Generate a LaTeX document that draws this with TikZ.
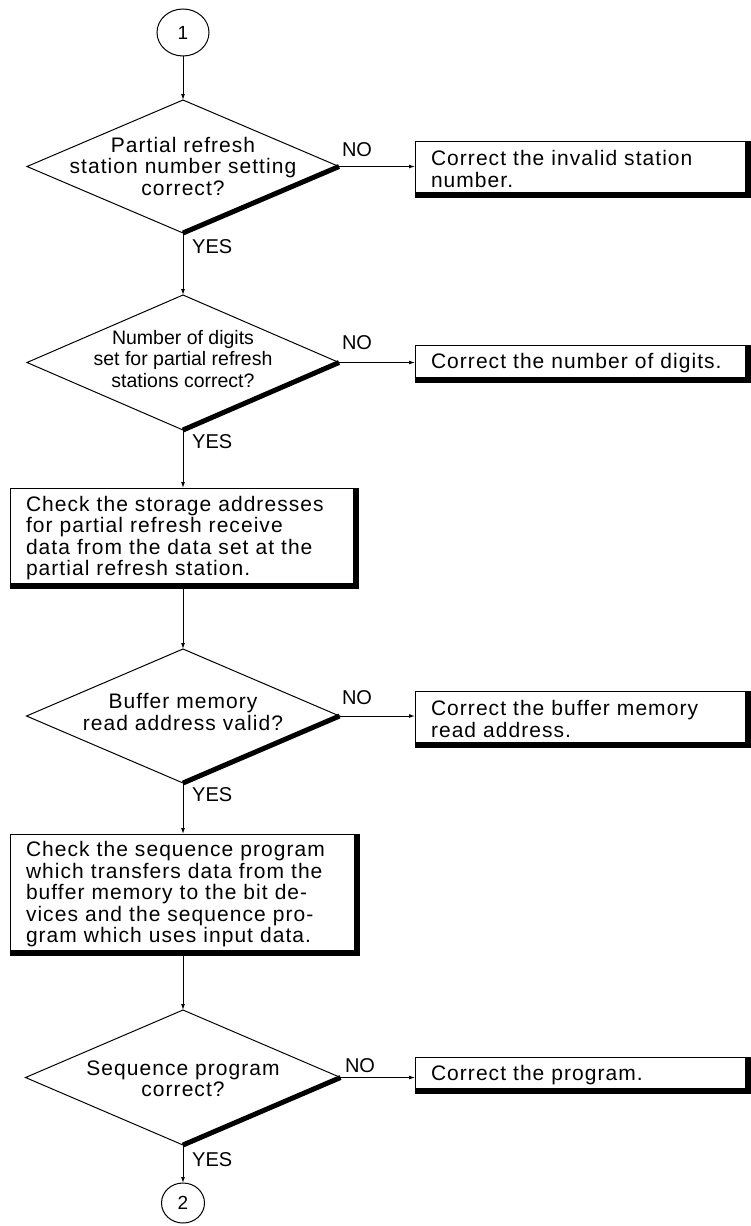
\documentclass[tikz,border=0pt]{standalone}
\usepackage{fontspec}
\setmainfont{Liberation Sans}[LetterSpace=5]
\newfontfamily\tightfont{Liberation Sans}
\usetikzlibrary{shapes.geometric,arrows.meta}
\tikzset{
  txt/.style={font=\fontsize{21}{21.5}\selectfont},
  dia/.style={draw,diamond,line width=1pt,inner sep=0pt,outer sep=0pt},
  diatext/.style={txt,align=center,inner sep=0pt},
  boxnode/.style={draw,rectangle,line width=1pt,outer sep=0pt,inner xsep=16pt,inner ysep=0pt,
    align=left,txt},
  conn/.style={ellipse,draw,line width=1pt,inner sep=0pt,outer sep=0pt,font=\tightfont\fontsize{19}{19}\selectfont},
  arr/.style={line width=1pt,-{Latex[length=6pt,width=4pt]}},
  thick edge/.style={line width=5pt},
  lbl/.style={font=\tightfont\fontsize{20}{20}\selectfont,inner sep=0pt}
}
\begin{document}
\begin{tikzpicture}[x=1pt,y=-1pt]
\useasboundingbox (0,0) rectangle (751,1226);
\fill[white] (0,0) rectangle (751,1226);

% connectors 1 and 2
\node[conn,minimum width=52pt,minimum height=47pt] (c1) at (183,32.5) {1};
\node[conn,minimum width=43pt,minimum height=40pt] (c2) at (183,1203) {2};

% decisions
\node[dia,minimum width=312pt,minimum height=133pt] (d1) at (183,166.5) {};
\node[diatext] (d1t) at (183,166) {Partial refresh\\station number setting\\correct?};
\node[dia,minimum width=312pt,minimum height=135pt] (d2) at (183,362.5) {};
\node[diatext,font=\tightfont\fontsize{19.5}{21.5}\selectfont] (d2t) at (183,359) {Number of digits\\set for partial refresh\\stations correct?};
\node[dia,minimum width=313pt,minimum height=134pt] (d3) at (183,716) {};
\node[diatext] (d3t) at (183,712) {Buffer memory\\read address valid?};
\node[dia,minimum width=315pt,minimum height=135pt] (d4) at (183,1077.5) {};
\node[diatext] (d4t) at (183,1079) {Sequence program\\correct?};

% boxes
\node[boxnode,minimum width=335pt,minimum height=56pt,text width=303pt] (b1) at (582.5,169) {Correct the invalid station\\number.};
\node[boxnode,minimum width=335pt,minimum height=37pt,text width=303pt] (b2) at (582.5,363.5) {Correct the number of digits.};
\node[boxnode,minimum width=348pt,minimum height=100pt,text width=316pt] (b3) at (184,538) {Check the storage addresses\\for partial refresh receive\\data from the data set at the\\partial refresh station.};
\node[boxnode,minimum width=335pt,minimum height=56pt,text width=303pt] (b4) at (582.5,719) {Correct the buffer memory\\read address.};
\node[boxnode,minimum width=349pt,minimum height=121pt,text width=317pt] (b5) at (184.5,894.5) {Check the sequence program\\which transfers data from the\\buffer memory to the bit de-\\vices and the sequence pro-\\gram which uses input data.};
\node[boxnode,minimum width=335pt,minimum height=36pt,text width=303pt] (b6) at (582.5,1075) {Correct the program.};

% box shadows
\foreach \n in {b1,b2,b3,b4,b5,b6}{
  \fill ([xshift=-5pt]\n.north east) rectangle (\n.south east);
  \fill (\n.south west) rectangle ([yshift=5pt]\n.south east);
}

% thick diamond edges
\foreach \n in {d1,d2,d3,d4}{
  \draw[thick edge] (\n.east) -- (\n.south);
}

% vertical flow
\draw[arr] (c1.south) -- (d1.north);
\draw[arr] (d1.south) -- (d2.north);
\draw[arr] (d2.south) -- (d2.south |- b3.north);
\draw[arr] (b3.south -| d3.north) -- (d3.north);
\draw[arr] (d3.south) -- (d3.south |- b5.north);
\draw[arr] (b5.south -| d4.north) -- (d4.north);
\draw[arr] (d4.south) -- (c2.north);

% NO branches
\draw[arr] (d1.east) -- (d1.east -| b1.west);
\draw[arr] (d2.east) -- (d2.east -| b2.west);
\draw[arr] (d3.east) -- (d3.east -| b4.west);
\draw[arr] (d4.east) -- (d4.east -| b6.west);

% labels
\node[lbl] (no1) at (357,150) {NO};
\node[lbl] (no2) at (357,343) {NO};
\node[lbl] (no3) at (357,698) {NO};
\node[lbl] (no4) at (360,1066) {NO};
\node[lbl,anchor=west] (yes1) at (192,247) {YES};
\node[lbl,anchor=west] (yes2) at (192,442) {YES};
\node[lbl,anchor=west] (yes3) at (192,795) {YES};
\node[lbl,anchor=west] (yes4) at (192,1160) {YES};
\end{tikzpicture}
\end{document}
